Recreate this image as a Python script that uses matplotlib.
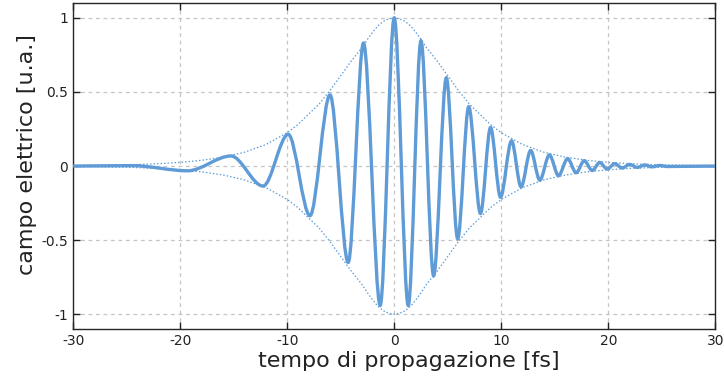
import matplotlib
matplotlib.use("Agg")
import matplotlib.pyplot as plt
from matplotlib.path import Path
from matplotlib.patches import PathPatch

plt.rcParams['axes.unicode_minus'] = False

# extrema of the electric field (time [fs], field [a.u.])
peak_t = [-30, -24.5, -19.3, -15.25, -12.25, -9.9, -7.87, -6.0, -4.3, -2.87, -1.31,
          0.0, 1.31, 2.5, 3.68, 4.87, 5.93, 6.96, 8.06, 9.0, 9.93, 10.96, 11.85,
          12.75, 13.6, 14.5, 15.35, 16.2, 17.0, 17.75, 18.5, 19.2, 19.9, 20.6,
          21.3, 22.0, 22.7, 23.4, 24.1, 24.8, 25.5, 30]
peak_v = [0.0, 0.003, -0.032, 0.068, -0.135, 0.214, -0.335, 0.48, -0.65, 0.83, -0.94,
          1.0, -0.94, 0.845, -0.74, 0.595, -0.49, 0.40, -0.32, 0.26, -0.21, 0.17, -0.14,
          0.105, -0.095, 0.075, -0.065, 0.05, -0.045, 0.036, -0.03, 0.024, -0.02, 0.016,
          -0.013, 0.011, -0.009, 0.007, -0.005, 0.004, -0.003, 0.0]

# envelope
env_t = [-30, -25, -22, -20, -18, -16, -14, -12, -10, -9, -8, -7, -6, -5, -4, -3,
         -2.5, -2, -1.5, -1, -0.5, 0, 0.5, 1, 1.5, 2, 2.5, 3, 4, 5, 6, 7, 8, 9, 10,
         12, 14, 16, 18, 20, 22, 25, 30]
env_v = [0.003, 0.008, 0.016, 0.025, 0.039, 0.06, 0.093, 0.145, 0.225, 0.28, 0.35,
         0.42, 0.51, 0.61, 0.71, 0.80, 0.855, 0.905, 0.948, 0.977, 0.994, 1.0, 0.994,
         0.977, 0.948, 0.905, 0.855, 0.80, 0.71, 0.61, 0.51, 0.42, 0.35, 0.28, 0.225,
         0.145, 0.093, 0.06, 0.039, 0.025, 0.016, 0.008, 0.003]

xticks = [-30, -20, -10, 0, 10, 20, 30]
yticks = [-1, -0.5, 0, 0.5, 1]
xtick_labels = ['-30', '-20', '-10', '0', '10', '20', '30']
ytick_labels = ['-1', '-0.5', '0', '0.5', '1']

color = '#5f9bd6'

fig = plt.figure(figsize=(7.24, 3.80), dpi=100)
ax = fig.add_axes([0.101, 0.134, 0.887, 0.858])

# smooth curve through the extrema (horizontal tangents at each extremum)
k = 0.33
verts = [(peak_t[0], peak_v[0])]
codes = [Path.MOVETO]
for i in range(len(peak_t) - 1):
    t0, v0, t1, v1 = peak_t[i], peak_v[i], peak_t[i + 1], peak_v[i + 1]
    dt = t1 - t0
    verts += [(t0 + k * dt, v0), (t1 - k * dt, v1), (t1, v1)]
    codes += [Path.CURVE4] * 3
ax.add_patch(PathPatch(Path(verts, codes), fill=False, edgecolor=color,
                       linewidth=2.4, zorder=3))

ax.plot(env_t, env_v, color=color, linewidth=0.9, linestyle=(0, (1.2, 1.6)), zorder=2)
ax.plot(env_t, [-v for v in env_v], color=color, linewidth=0.9,
        linestyle=(0, (1.2, 1.6)), zorder=2)

ax.set_xlim(-30, 30)
ax.set_ylim(-1.1, 1.1)
ax.set_xticks(xticks)
ax.set_xticklabels(xtick_labels)
ax.set_yticks(yticks)
ax.set_yticklabels(ytick_labels)
ax.grid(True, color='#c4c4c4', linestyle=(0, (3, 3)), linewidth=0.9)
ax.tick_params(direction='in', top=True, right=True, length=5, width=1,
               labelsize=10, colors='#222222')
for s in ax.spines.values():
    s.set_linewidth(1.0)
    s.set_color('#262626')

ax.set_xlabel('tempo di propagazione [fs]', fontsize=16, color='#222222')
ax.set_ylabel('campo elettrico [u.a.]', fontsize=16, color='#222222')
ax.xaxis.set_label_coords(0.522, -0.066)
ax.yaxis.set_label_coords(-0.057, 0.535)

fig.savefig('out.png', dpi=100)
